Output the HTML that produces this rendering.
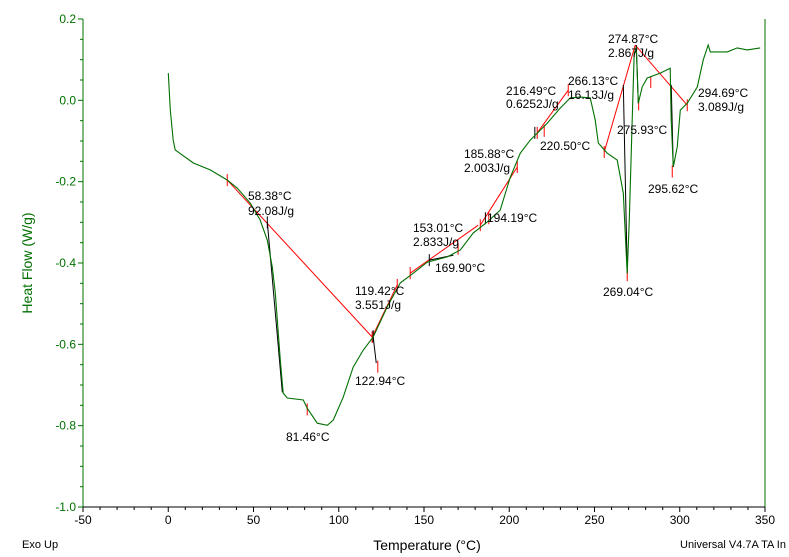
<!DOCTYPE html>
<html><head><meta charset="utf-8"><style>
body{margin:0;background:#fff;}
svg{display:block;font-family:"Liberation Sans",Arial,sans-serif;}
</style></head><body>
<svg id="chart" width="789" height="557" viewBox="0 0 789 557">
<g id="axes"></g>
<g id="annot"></g>
<g id="series"></g>
<g id="labels" font-size="12" fill="#000"></g>
<text x="32" y="263" fill="#007000" font-size="14" text-anchor="middle" transform="rotate(-90 32 263)">Heat Flow (W/g)</text>
<text x="427" y="550" font-size="14" text-anchor="middle">Temperature (°C)</text>
<text x="22" y="548" font-size="11">Exo Up</text>
<text x="680" y="548" font-size="11">Universal V4.7A TA In</text>
</svg>
<script>
const xTicks=[-50,0,50,100,150,200,250,300,350];
const yTicks=[0.2,0.0,-0.2,-0.4,-0.6,-0.8,-1.0];
const temps=[0,1.2,2.9,4.1,14.7,24.6,34.6,40.5,48.1,53.9,58.1,61.0,62.8,65.7,67.4,69.8,79.2,81.5,87.4,93.3,96.8,102.6,108.5,114.4,120.2,128.4,136.1,143.7,151.9,163.6,171.3,178.9,187.1,194.7,200.6,206.5,212.3,222.3,229.9,235.8,241.6,247.5,250.4,252.2,257.5,263.3,266.9,268.6,269.2,270.4,272.1,273.3,274.5,275.7,278.0,280.9,288.6,294.4,295.0,296.2,298.5,300.3,304.4,310.3,313.8,316.7,317.9,327.9,333.7,339.6,347.2];
const heatFlow=[0.067,-0.024,-0.098,-0.122,-0.154,-0.171,-0.196,-0.216,-0.253,-0.294,-0.344,-0.410,-0.474,-0.639,-0.720,-0.732,-0.737,-0.757,-0.794,-0.799,-0.786,-0.730,-0.656,-0.614,-0.582,-0.508,-0.449,-0.425,-0.398,-0.385,-0.368,-0.326,-0.299,-0.270,-0.189,-0.130,-0.098,-0.056,-0.019,0.006,0.008,0.006,-0.048,-0.105,-0.130,-0.147,-0.228,-0.376,-0.425,-0.294,-0.048,0.116,0.131,-0.007,0.033,0.055,0.067,0.079,-0.048,-0.164,-0.115,-0.024,-0.007,0.033,0.100,0.136,0.119,0.119,0.129,0.124,0.129];
const redSegs=[[34.6,-0.196,119.6,-0.582],[119.6,-0.582,134.3,-0.454],[141.9,-0.425,181.8,-0.307],[183.0,-0.307,204.7,-0.164],[216.4,-0.080,234.6,0.025],[255.7,-0.127,273.9,0.136],[273.9,0.136,304.4,-0.012]];
const blackSegs=[[58.1,-0.299,66.9,-0.718],[120.2,-0.582,122.0,-0.646],[153.1,-0.393,167.2,-0.381],[266.9,0.038,269.2,-0.425],[274.5,0.136,275.7,-0.007],[295.0,0.038,296.2,-0.164]];
const redTicks=[[34.6,-0.196],[119.6,-0.582],[122.9,-0.655],[81.5,-0.760],[134.3,-0.454],[141.9,-0.425],[170,-0.365],[183,-0.307],[188,-0.290],[204.7,-0.164],[216.4,-0.080],[220.5,-0.075],[234.6,0.025],[255.7,-0.127],[269.2,-0.430],[275.9,-0.010],[283,0.045],[295.6,-0.175],[304.4,-0.012]];
const blackTicks=[[58.1,-0.30],[120.2,-0.58],[153.1,-0.393],[186,-0.29],[215,-0.08]];
const peakLabels=[["58.38°C",248,200],["92.08J/g",248,215],["119.42°C",355,295],["3.551J/g",355,309],["122.94°C",355,385],["81.46°C",286,441],["153.01°C",413,232],["2.833J/g",413,246],["169.90°C",435,272],["185.88°C",464,158],["2.003J/g",464,172],["194.19°C",487,222],["216.49°C",506,95],["0.6252J/g",506,108],["220.50°C",540,150],["266.13°C",568,85],["16.13J/g",568,99],["274.87°C",608,43],["2.867J/g",608,57],["275.93°C",617,134],["269.04°C",603,296],["295.62°C",648,193],["294.69°C",698,97],["3.089J/g",698,111]];

const NS="http://www.w3.org/2000/svg";
const X0=83,X1=765,Y0=19,Y1=507;
const xs=t=>X0+(t+50)/400*(X1-X0);
const ys=v=>Y0+(0.2-v)/1.2*(Y1-Y0);
function mk(tag,attrs,parent){const e=document.createElementNS(NS,tag);for(const k in attrs)e.setAttribute(k,attrs[k]);parent.appendChild(e);return e;}
const ax=document.getElementById('axes');
let e;
e=mk('line',{x1:X0,y1:Y0,x2:X0,y2:Y1,stroke:'#007000','stroke-width':1},ax);


e=mk('line',{x1:X1,y1:Y0,x2:X1,y2:Y1,stroke:'#007000','stroke-width':1},ax);


e=mk('line',{x1:X0,y1:Y1,x2:X1,y2:Y1,stroke:'#000','stroke-width':1},ax);


for(let t=-50;t<=350;t+=10){const major=(t%50===0);
 e=mk('line',{x1:xs(t),y1:Y1,x2:xs(t),y2:Y1+(major?5:3),stroke:'#000'},ax);
 
 }
xTicks.forEach(t=>{e=mk('text',{x:xs(t),y:Y1+17,'font-size':12,'text-anchor':'middle'},ax);e.textContent=t;
 
 });
for(let v=-1.0;v<=0.2001;v+=0.05){const major=Math.abs(Math.round(v*10)-v*10)<1e-6&&Math.round(v*10)%2===0;
 e=mk('line',{x1:X0-(major?5:3),y1:ys(v),x2:X0,y2:ys(v),stroke:'#007000'},ax);
 
 }
yTicks.forEach(v=>{e=mk('text',{x:X0-7,y:ys(v)+4,'font-size':12,'text-anchor':'end',fill:'#007000'},ax);e.textContent=v.toFixed(1);
 
 });
const an=document.getElementById('annot');
redSegs.forEach(s=>{e=mk('line',{x1:xs(s[0]),y1:ys(s[1]),x2:xs(s[2]),y2:ys(s[3]),stroke:'#ff0000'},an);
 
 });
blackSegs.forEach(s=>{e=mk('line',{x1:xs(s[0]),y1:ys(s[1]),x2:xs(s[2]),y2:ys(s[3]),stroke:'#000'},an);
 
 });
const sr=document.getElementById('series');
let d='';temps.forEach((t,i)=>{d+=(i?'L':'M')+xs(t).toFixed(1)+' '+ys(heatFlow[i]).toFixed(1);});
e=mk('path',{d:d,fill:'none',stroke:'#007000','stroke-width':1.1},sr);


redTicks.forEach(p=>{e=mk('line',{x1:xs(p[0]),y1:ys(p[1])-6,x2:xs(p[0]),y2:ys(p[1])+6,stroke:'#ff0000'},an);
 
 });
blackTicks.forEach(p=>{e=mk('line',{x1:xs(p[0]),y1:ys(p[1])-6,x2:xs(p[0]),y2:ys(p[1])+6,stroke:'#000'},an);
 
 });
const lb=document.getElementById('labels');
peakLabels.forEach(l=>{e=mk('text',{x:l[1],y:l[2]},lb);e.textContent=l[0];
 
 });
</script>
</body></html>
